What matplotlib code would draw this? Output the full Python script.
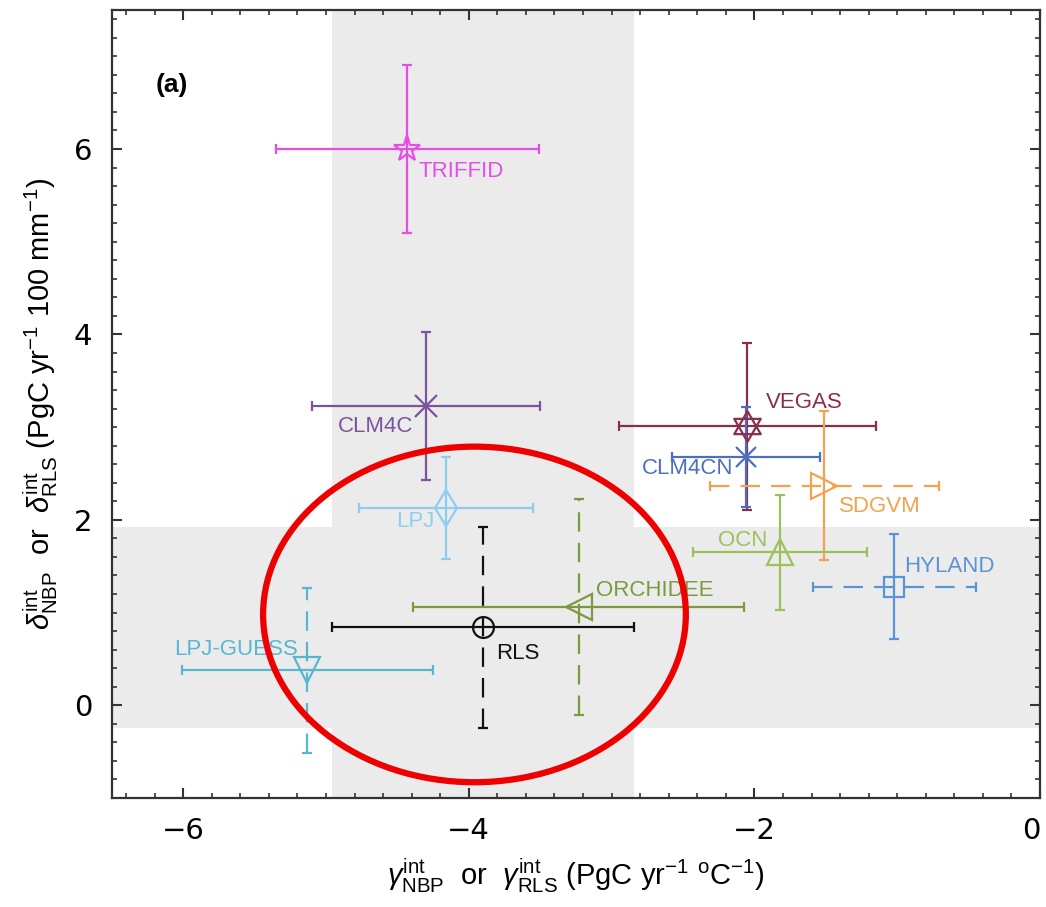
import matplotlib
matplotlib.use("Agg")
import matplotlib.pyplot as plt
from matplotlib.patches import Ellipse
from matplotlib.ticker import MultipleLocator

plt.rcParams['font.family'] = ['Liberation Sans', 'DejaVu Sans']
plt.rcParams['mathtext.fontset'] = 'custom'
plt.rcParams['mathtext.rm'] = 'Liberation Sans'
plt.rcParams['mathtext.it'] = 'Liberation Sans:italic'
plt.rcParams['mathtext.bf'] = 'Liberation Sans:bold'
plt.rcParams['lines.scale_dashes'] = False

# model estimates
models = ['TRIFFID', 'CLM4C', 'VEGAS', 'CLM4CN', 'SDGVM', 'OCN', 'HYLAND',
          'ORCHIDEE', 'LPJ', 'LPJ-GUESS', 'RLS']
gamma = [-4.43, -4.30, -2.05, -2.06, -1.51, -1.82, -1.02, -3.23, -4.16, -5.13, -3.90]
delta = [6.00, 3.23, 3.01, 2.68, 2.37, 1.65, 1.28, 1.06, 2.13, 0.38, 0.84]
gamma_err = [0.92, 0.80, 0.90, 0.52, 0.80, 0.61, 0.57, 1.16, 0.61, 0.88, 1.06]
delta_err = [0.91, 0.80, 0.90, 0.54, 0.80, 0.62, 0.57, 1.17, 0.55, 0.89, 1.08]

colors = ['#e64ce6', '#7d539e', '#8a2e4e', '#4c6fc2', '#f4a24c', '#9cc15c',
          '#5a93d6', '#7b9a3c', '#8ecdf0', '#58b6d2', '#111111']
markers = ['*', 'x', 'star6', 'x', '>', '^', 's', '<', 'd', 'v', 'o']
msizes = [20, 16, 22, 14, 19, 19, 15, 19, 18, 19, 15]
dash = (0, (14, 8))
# linestyle for (horizontal, vertical) error bars
bar_styles = [('-', '-'), ('-', '-'), ('-', '-'), ('-', '-'), (dash, '-'),
              ('-', '-'), (dash, '-'), ('-', dash), ('-', '-'), ('-', dash),
              ('-', dash)]
# label offset from the point (data units) and alignment
label_off = [(0.08, -0.24, 'left'), (-0.09, -0.22, 'right'), (0.13, 0.26, 'left'),
             (-0.09, -0.13, 'right'), (0.10, -0.23, 'left'), (-0.09, 0.13, 'right'),
             (0.07, 0.22, 'left'), (0.12, 0.18, 'left'), (-0.08, -0.15, 'right'),
             (-0.07, 0.22, 'right'), (0.09, -0.28, 'left')]

# triangles centred on their centroid, for the six-pointed star
tri_up = [(0, 1), (-0.866, -0.5), (0.866, -0.5), (0, 1)]
tri_dn = [(0, -1), (-0.866, 0.5), (0.866, 0.5), (0, -1)]

fig = plt.figure(figsize=(10.46, 9.07), dpi=100)
ax = fig.add_axes([0.1068, 0.1202, 0.8875, 0.8688])

# shaded range of the RLS estimate
r = models.index('RLS')
ax.axvspan(gamma[r] - gamma_err[r], gamma[r] + gamma_err[r], color='#ebebeb', lw=0, zorder=0)
ax.axhspan(delta[r] - delta_err[r], delta[r] + delta_err[r], color='#ebebeb', lw=0, zorder=0)

for i, name in enumerate(models):
    c = colors[i]
    ebx = ax.errorbar(gamma[i], delta[i], xerr=gamma_err[i], fmt='none', ecolor=c,
                      elinewidth=1.6, capsize=3.5, capthick=1.6, zorder=3)
    ebx.lines[2][0].set_linestyle(bar_styles[i][0])
    eby = ax.errorbar(gamma[i], delta[i], yerr=delta_err[i], fmt='none', ecolor=c,
                      elinewidth=1.6, capsize=3.5, capthick=1.6, zorder=3)
    eby.lines[2][0].set_linestyle(bar_styles[i][1])
    if markers[i] == 'star6':
        for m in [tri_up, tri_dn]:
            ax.plot(gamma[i], delta[i], marker=m, ms=msizes[i], mfc='none', mec=c,
                    mew=1.6, ls='none', zorder=4)
    else:
        ax.plot(gamma[i], delta[i], marker=markers[i], ms=msizes[i], mfc='none', mec=c,
                mew=1.6, ls='none', zorder=4)
    dx, dy, ha = label_off[i]
    ax.text(gamma[i] + dx, delta[i] + dy, name, color=c, fontsize=16, ha=ha,
            va='center', zorder=5)

# red highlight around the RLS / ORCHIDEE cluster
ax.add_patch(Ellipse((-3.96, 0.98), 2.96, 3.62, fill=False, ec='#ee0000', lw=4.5, zorder=10))

ax.text(0.047, 0.905, '(a)', transform=ax.transAxes, fontsize=19, fontweight='bold',
        ha='left', va='center')

ax.set_xlim(-6.5, 0)
ax.set_ylim(-1, 7.5)
ax.xaxis.set_major_locator(MultipleLocator(2))
ax.xaxis.set_minor_locator(MultipleLocator(0.2))
ax.yaxis.set_major_locator(MultipleLocator(2))
ax.yaxis.set_minor_locator(MultipleLocator(0.2))
ax.tick_params(which='both', direction='in', top=True, right=True, color='#333333')
ax.tick_params(which='major', length=7, width=1.5, labelsize=21, pad=14)
ax.tick_params(which='minor', length=3.5, width=1.2)
for s in ax.spines.values():
    s.set_linewidth(1.6)
    s.set_color('#333333')

ax.set_xlabel(r'$\gamma^{\mathrm{int}}_{\mathrm{NBP}}$  or  $\gamma^{\mathrm{int}}_{\mathrm{RLS}}$ (PgC yr$^{-1}$ $^{\mathrm{o}}$C$^{-1}$)',
              fontsize=21, labelpad=8)
ax.set_ylabel(r'$\delta^{\mathrm{int}}_{\mathrm{NBP}}$  or  $\delta^{\mathrm{int}}_{\mathrm{RLS}}$ (PgC yr$^{-1}$ 100 mm$^{-1}$)',
              fontsize=21, labelpad=10)

fig.canvas.draw()
for lab in ax.get_xticklabels() + ax.get_yticklabels():
    lab.set_family('DejaVu Sans')
# keep the "0" at the right edge inside the figure
for lab in ax.get_xticklabels():
    if lab.get_position()[0] == 0:
        lab.set_horizontalalignment('right')

plt.savefig('out.png', dpi=100)
